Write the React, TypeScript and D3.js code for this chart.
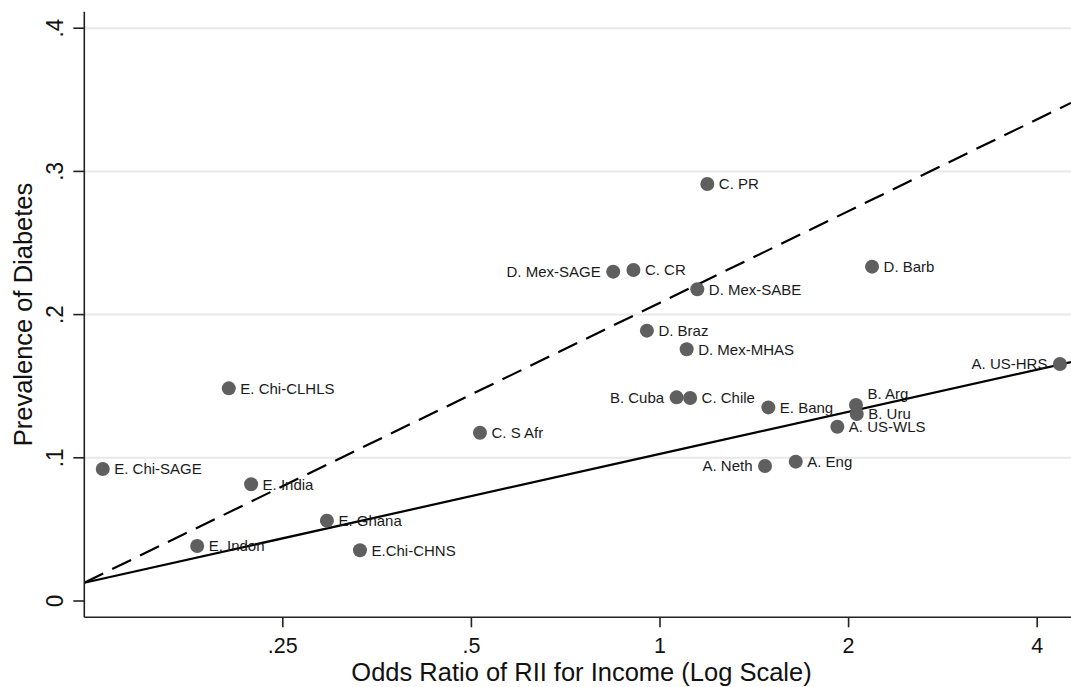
import React from "react";
import * as d3 from "d3";

// ---- data ----
const labels = [
  "E. Chi-SAGE", "E. Chi-CLHLS", "E. India", "E. Indon", "E. Ghana", "E.Chi-CHNS",
  "C. S Afr", "D. Mex-SAGE", "C. CR", "D. Mex-SABE", "D. Braz", "D. Mex-MHAS",
  "B. Cuba", "C. Chile", "E. Bang", "C. PR", "D. Barb", "A. US-HRS",
  "B. Arg", "B. Uru", "A. US-WLS", "A. Neth", "A. Eng",
];
const oddsRatio = [
  0.129, 0.205, 0.2225, 0.1825, 0.294, 0.332,
  0.516, 0.842, 0.907, 1.147, 0.953, 1.103,
  1.063, 1.117, 1.489, 1.19, 2.18, 4.349,
  2.055, 2.061, 1.919, 1.471, 1.647,
];
const prevalence = [
  0.0922, 0.1485, 0.0815, 0.0384, 0.0561, 0.0354,
  0.1175, 0.23, 0.2311, 0.2177, 0.1888, 0.1758,
  0.1422, 0.1418, 0.1352, 0.2912, 0.2335, 0.1655,
  0.1369, 0.1306, 0.1217, 0.0943, 0.0973,
];
// label placement: r = right, l = left, ur = upper right
const labelSide: Record<string, string> = {
  "D. Mex-SAGE": "l",
  "B. Cuba": "l",
  "A. Neth": "l",
  "A. US-HRS": "l",
  "B. Arg": "ur",
};
// fitted lines: prevalence = intercept + slope * log2(oddsRatio)
const fitNames = ["dashed", "solid"];
const fitIntercept = [0.2083, 0.1027];
const fitSlope = [0.06404, 0.02946];

const xTicks = [0.25, 0.5, 1, 2, 4];
const xTickLabels = [".25", ".5", "1", "2", "4"];
const yTicks = [0, 0.1, 0.2, 0.3, 0.4];
const yTickLabels = ["0", ".1", ".2", ".3", ".4"];

const W = 1071;
const H = 687;
const FONT = "'Liberation Sans', Arial, sans-serif";

export default function App() {
  const left = 84.3;
  const right = 1071;
  const top = 11.7;
  const bottom = 617.3;

  // log2 scale calibrated: x(1)=660, 188.6 px per doubling
  const xMin = Math.pow(2, (left - 660) / 188.6);
  const xMax = Math.pow(2, (right - 660) / 188.6);
  const yMax = (601 - top) / 1432;
  const yMin = (601 - bottom) / 1432;

  const x = d3.scaleLog().base(2).domain([xMin, xMax]).range([left, right]);
  const y = d3.scaleLinear().domain([yMin, yMax]).range([bottom, top]);

  const fitPaths = fitNames.map((name, k) => {
    const xs = [xMin, 1, xMax];
    const gen = d3
      .line<number>()
      .x((v) => x(v))
      .y((v) => y(fitIntercept[k] + fitSlope[k] * Math.log2(v)));
    return { name, d: gen(xs) || "" };
  });

  return (
    <svg
      width={W}
      height={H}
      style={{ position: "absolute", left: 0, top: 0, background: "#fff" }}
      fontFamily={FONT}
    >
      <rect x={0} y={0} width={W} height={H} fill="#fff" />
      {/* gridlines */}
      {yTicks
        .filter((t) => t > 0)
        .map((t) => (
          <line
            key={"g" + t}
            x1={left}
            x2={right}
            y1={y(t)}
            y2={y(t)}
            stroke="#e8e8e8"
            strokeWidth={2}
          />
        ))}
      {/* fit lines */}
      {fitPaths.map((p) => (
        <path
          key={p.name}
          d={p.d}
          fill="none"
          stroke="#000"
          strokeWidth={2.2}
          strokeDasharray={p.name === "dashed" ? "21,10" : undefined}
        />
      ))}
      {/* points */}
      {labels.map((lab, i) => (
        <circle
          key={"c" + lab}
          cx={x(oddsRatio[i])}
          cy={y(prevalence[i])}
          r={7}
          fill="#5f5f5f"
        />
      ))}
      {/* labels */}
      {labels.map((lab, i) => {
        const side = labelSide[lab] || "r";
        const cx = x(oddsRatio[i]);
        const cy = y(prevalence[i]);
        const tx = side === "l" ? cx - 12.5 : cx + 11.5;
        const ty = side === "ur" ? cy - 11 : cy;
        return (
          <text
            key={"t" + lab}
            x={tx}
            y={ty}
            dy="0.36em"
            textAnchor={side === "l" ? "end" : "start"}
            fontSize={15}
            fill="#1a1a1a"
          >
            {lab}
          </text>
        );
      })}
      {/* axes */}
      <line x1={left} x2={left} y1={top} y2={bottom} stroke="#222" strokeWidth={1.6} />
      <line x1={left} x2={right} y1={bottom} y2={bottom} stroke="#222" strokeWidth={1.6} />
      {yTicks.map((t, i) => (
        <g key={"yt" + t}>
          <line x1={left - 11} x2={left} y1={y(t)} y2={y(t)} stroke="#222" strokeWidth={1.6} />
          <text
            transform={`translate(${63},${y(t)}) rotate(-90) scale(1,1.06)`}
            textAnchor="middle"
            fontSize={22.5}
            fill="#111"
          >
            {yTickLabels[i]}
          </text>
        </g>
      ))}
      {xTicks.map((t, i) => (
        <g key={"xt" + t}>
          <line x1={x(t)} x2={x(t)} y1={bottom} y2={bottom + 10} stroke="#222" strokeWidth={1.6} />
          <text x={x(t)} y={652.5} textAnchor="middle" fontSize={21.5} fill="#111">
            {xTickLabels[i]}
          </text>
        </g>
      ))}
      <text
        transform={`translate(${32},${(top + bottom) / 2}) rotate(-90) scale(1,1.04)`}
        textAnchor="middle"
        fontSize={25.5}
        fill="#111"
      >
        Prevalence of Diabetes
      </text>
      <text
        transform={`translate(${(353 + 810) / 2},${681}) scale(1.02,1.05)`}
        textAnchor="middle"
        fontSize={25}
        fill="#111"
      >
        Odds Ratio of RII for Income (Log Scale)
      </text>
    </svg>
  );
}
